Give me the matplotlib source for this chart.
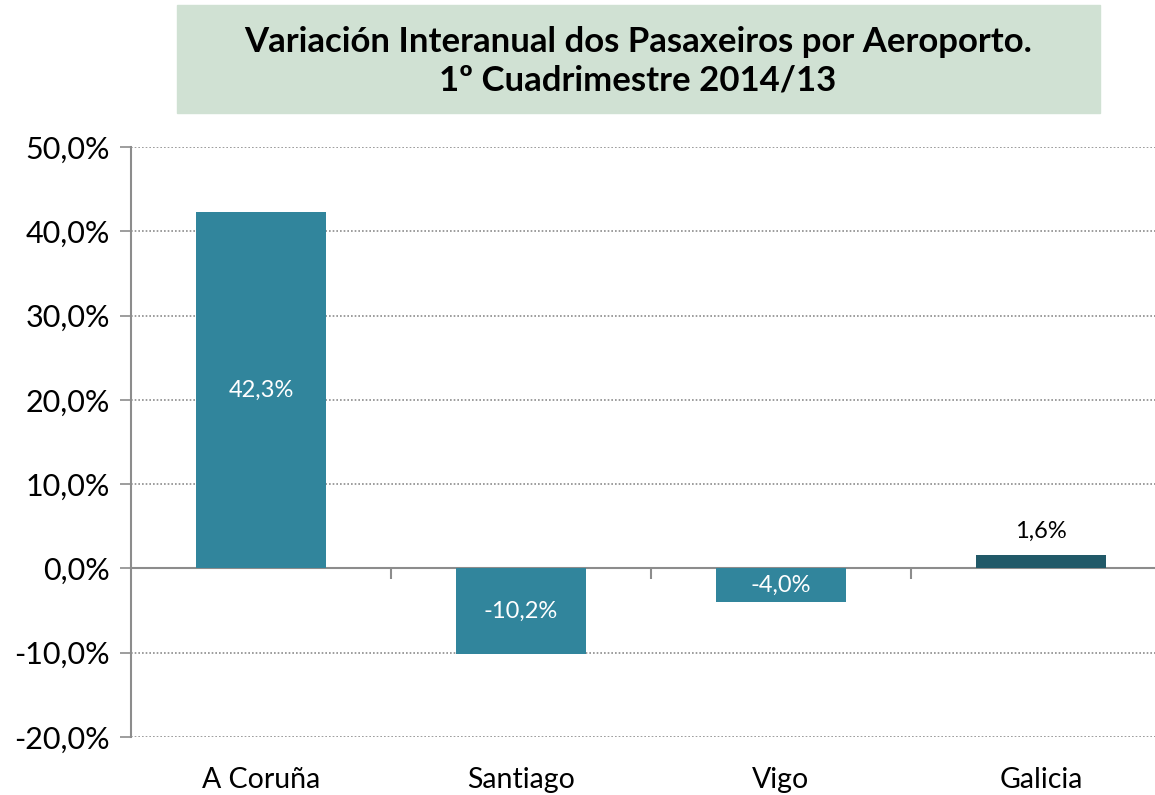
import matplotlib
matplotlib.use("Agg")
import matplotlib.pyplot as plt
from matplotlib.patches import Rectangle

plt.rcParams["font.family"] = ["Lato", "DejaVu Sans"]

# Datos
aeropuertos = ["A Coruña", "Santiago", "Vigo", "Galicia"]
variacion = [42.3, -10.2, -4.0, 1.6]
etiquetas = ["42,3%", "-10,2%", "-4,0%", "1,6%"]
colores = ["#31859c", "#31859c", "#31859c", "#215968"]
yticks = [-20, -10, 0, 10, 20, 30, 40, 50]
ytick_labels = ["-20,0%", "-10,0%", "0,0%", "10,0%", "20,0%", "30,0%", "40,0%", "50,0%"]

W, H = 1155, 795
fig = plt.figure(figsize=(W / 100, H / 100), dpi=100)
ax = fig.add_axes([131 / W, (H - 737) / H, (W - 131) / W, (737 - 147) / H])

x = list(range(len(aeropuertos)))
ax.bar(x, variacion, width=0.5, color=colores, zorder=3)

ax.set_ylim(-20, 50)
ax.set_xlim(-0.5, 3.5 - 16 / 260)

# Rejilla punteada
ax.set_yticks(yticks)
ax.set_yticklabels(ytick_labels, fontsize=22)
ax.yaxis.grid(True, linestyle=(0, (1, 1.2)), color="#8c8c8c", linewidth=1.2, zorder=0)
ax.tick_params(axis="y", length=8, width=1.2, color="#8c8c8c", pad=7)

# Eje x en el cero
for s in ["top", "right"]:
    ax.spines[s].set_visible(False)
ax.spines["left"].set_color("#8c8c8c")
ax.spines["left"].set_linewidth(1.5)
ax.spines["bottom"].set_position(("data", 0))
ax.spines["bottom"].set_color("#8c8c8c")
ax.spines["bottom"].set_linewidth(1.5)
ax.set_xticks([0.5, 1.5, 2.5])
ax.set_xticklabels([])
ax.tick_params(axis="x", length=8, width=1.5, color="#8c8c8c", direction="out")

# Etiquetas de categoria debajo
for i, nombre in enumerate(aeropuertos):
    ax.text(i, -25.1, nombre, ha="center", va="center", fontsize=20.5, clip_on=False)

# Etiquetas de datos
for i, v in enumerate(variacion):
    if i == 3:
        ax.text(i, v + 2.8, etiquetas[i], ha="center", va="center", fontsize=17, color="black")
    else:
        ax.text(i, v / 2, etiquetas[i], ha="center", va="center", fontsize=17, color="white", zorder=4)

# Titulo con caja
fig.patches.append(Rectangle((177 / W, (H - 113) / H), (1100 - 177) / W, 108 / H,
                             transform=fig.transFigure, color="#d0e1d3", zorder=0))
fig.text(638 / W, (H - 61) / H, "Variación Interanual dos Pasaxeiros por Aeroporto.\n1º Cuadrimestre 2014/13",
         ha="center", va="center", fontsize=25, fontweight="bold", linespacing=1.25)

fig.savefig("out.png", dpi=100)
